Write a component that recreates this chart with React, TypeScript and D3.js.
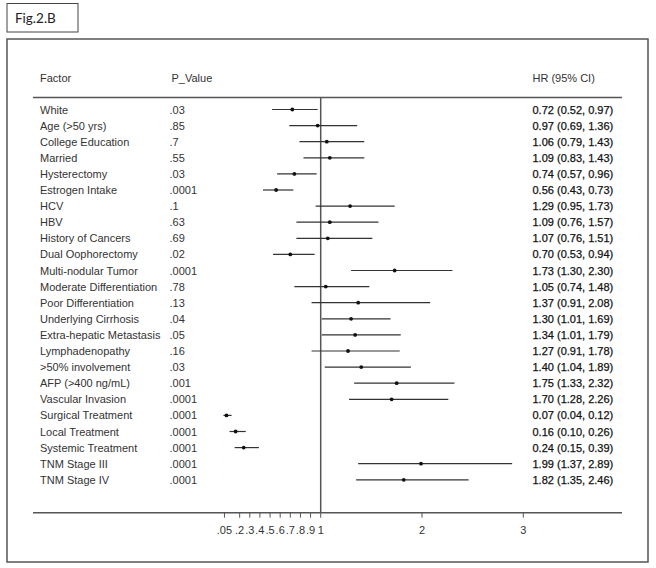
import React from "react";
import * as d3 from "d3";

const factors = [
  "White", "Age (>50 yrs)", "College Education", "Married", "Hysterectomy",
  "Estrogen Intake", "HCV", "HBV", "History of Cancers", "Dual Oophorectomy",
  "Multi-nodular Tumor", "Moderate Differentiation", "Poor Differentiation",
  "Underlying Cirrhosis", "Extra-hepatic Metastasis", "Lymphadenopathy",
  ">50% involvement", "AFP (>400 ng/mL)", "Vascular Invasion",
  "Surgical Treatment", "Local Treatment", "Systemic Treatment",
  "TNM Stage III", "TNM Stage IV",
];
const pValues = [
  ".03", ".85", ".7", ".55", ".03", ".0001", ".1", ".63", ".69", ".02",
  ".0001", ".78", ".13", ".04", ".05", ".16", ".03", ".001", ".0001",
  ".0001", ".0001", ".0001", ".0001", ".0001",
];
const hr = [0.72, 0.97, 1.06, 1.09, 0.74, 0.56, 1.29, 1.09, 1.07, 0.70, 1.73, 1.05, 1.37, 1.30, 1.34, 1.27, 1.40, 1.75, 1.70, 0.07, 0.16, 0.24, 1.99, 1.82];
const lower = [0.52, 0.69, 0.79, 0.83, 0.57, 0.43, 0.95, 0.76, 0.76, 0.53, 1.30, 0.74, 0.91, 1.01, 1.01, 0.91, 1.04, 1.33, 1.28, 0.04, 0.10, 0.15, 1.37, 1.35];
const upper = [0.97, 1.36, 1.43, 1.43, 0.96, 0.73, 1.73, 1.57, 1.51, 0.94, 2.30, 1.48, 2.08, 1.69, 1.79, 1.78, 1.89, 2.32, 2.26, 0.12, 0.26, 0.39, 2.89, 2.46];
const tickValues = [0.05, 0.2, 0.3, 0.4, 0.5, 0.6, 0.7, 0.8, 0.9, 1, 2, 3];
const tickLabels = [".05", ".2", ".3", ".4", ".5", ".6", ".7", ".8", ".9", "1", "2", "3"];

export default function App() {
  const x = d3.scaleLinear().domain([0, 3]).range([219.4, 523.3]);
  const y = d3.scaleLinear().domain([0, factors.length - 1]).range([109.5, 479.8]);
  const font = "'Liberation Sans', Arial, sans-serif";
  const topY = 97.5;
  const axisY = 512.7;
  const fmt = (v: number) => v.toFixed(2);
  return (
    <div style={{ position: "absolute", left: 0, top: 0 }}>
      <svg width={656} height={568} style={{ display: "block" }} fontFamily={font}>
        <rect x={0} y={0} width={656} height={568} fill="#fff" />
        <rect x={7} y={3.5} width={71} height={28.5} fill="none" stroke="#444" strokeWidth={1} />
        <text x={15} y={23} fontSize={13.5} fill="#222" fontFamily="Lato, 'Open Sans', sans-serif">Fig.2.B</text>
        <rect x={7} y={39} width={641} height={523} fill="none" stroke="#555" strokeWidth={1.5} />
        <text x={40} y={82} fontSize={11} fill="#333">Factor</text>
        <text x={171.5} y={82} fontSize={11} fill="#333">P_Value</text>
        <text x={532.5} y={82} fontSize={11} fill="#333">HR (95% CI)</text>
        <line x1={33} x2={622} y1={topY} y2={topY} stroke="#555" strokeWidth={1.5} />
        <line x1={33} x2={622} y1={axisY} y2={axisY} stroke="#555" strokeWidth={1.5} />
        <line x1={x(1)} x2={x(1)} y1={topY} y2={axisY} stroke="#555" strokeWidth={1.5} />
        {tickValues.map((t, i) => (
          <g key={i}>
            <line x1={x(t)} x2={x(t)} y1={axisY} y2={axisY + 5} stroke="#555" strokeWidth={1} />
            <text x={x(t)} y={534} fontSize={11} fill="#333" textAnchor="middle">{tickLabels[i]}</text>
          </g>
        ))}
        {factors.map((f, i) => (
          <g key={f}>
            <text x={40} y={y(i) + 4} fontSize={11} fill="#333">{f}</text>
            <text x={169.5} y={y(i) + 4} fontSize={11} fill="#333">{pValues[i]}</text>
            <line x1={x(lower[i])} x2={x(upper[i])} y1={y(i)} y2={y(i)} stroke="#333" strokeWidth={1.2} />
            <circle cx={x(hr[i])} cy={y(i)} r={1.9} fill="#111" />
            <text x={532.5} y={y(i) + 4} fontSize={11} fill="#111" stroke="#111" strokeWidth={0.25}>
              {`${fmt(hr[i])} (${fmt(lower[i])}, ${fmt(upper[i])})`}
            </text>
          </g>
        ))}
      </svg>
    </div>
  );
}
